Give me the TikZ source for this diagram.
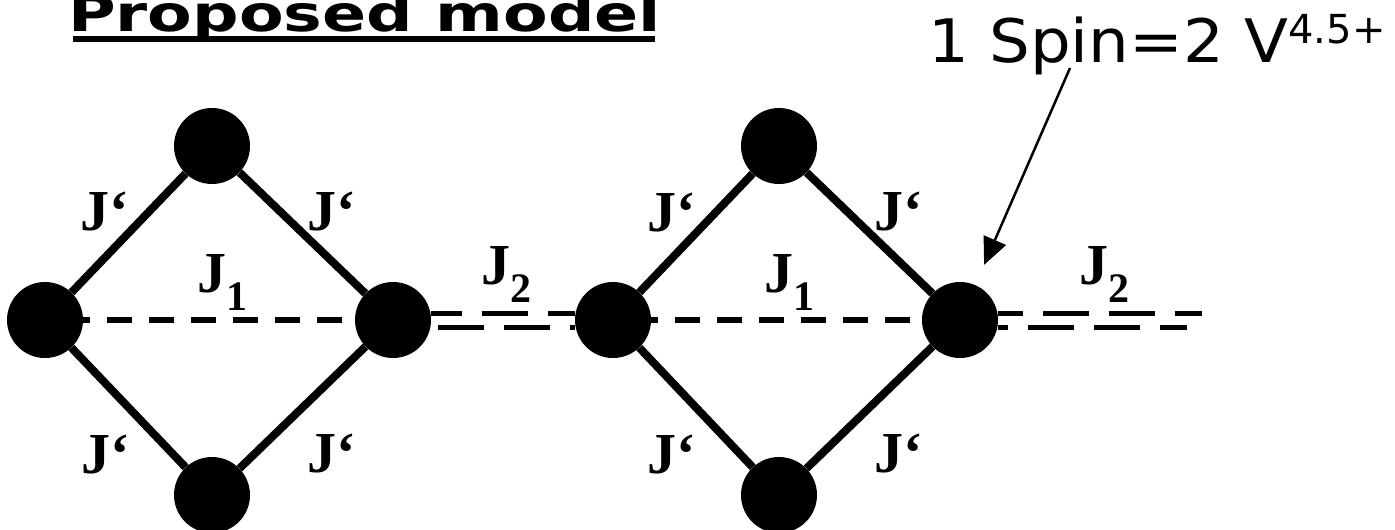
\documentclass[tikz,border=0pt]{standalone}
\usepackage{fontspec}
\usepackage{graphicx}
\setmainfont{Liberation Serif}
\newfontfamily\dejavu{DejaVu Sans}
\usetikzlibrary{arrows.meta}
\newcommand\Jsub[1]{J\raisebox{-18pt}{\fontsize{42}{42}\selectfont #1}}
\begin{document}
\begin{tikzpicture}[x=1pt,y=-1pt,
  site/.style={circle,fill=black,minimum size=76pt,inner sep=0pt},
  bond/.style={line width=8pt},
  jone/.style={line width=6.5pt,dash pattern=on 24.5pt off 17.5pt,dash phase=18pt},
  jtwo/.style={line width=5pt,dash pattern=on 46pt off 20pt},
  lab/.style={anchor=base west,inner sep=0pt,font=\fontsize{58}{58}\selectfont\bfseries}
]
\useasboundingbox (0,0) rectangle (1395,530);
% title
\node[anchor=base west,inner sep=0pt,font=\dejavu\bfseries\fontsize{50}{50}\selectfont] (title) at (68,31) {\scalebox{1.3}[1]{Proposed model}};
\draw[line width=6pt] (73,39) -- (655,39);
% sites
\node[site] (l1) at (45,320) {};
\node[site] (t1) at (212,146) {};
\node[site] (r1) at (393,320) {};
\node[site] (b1) at (212,495) {};
\node[site] (l2) at (613,320) {};
\node[site] (t2) at (779,146) {};
\node[site] (r2) at (960,320) {};
\node[site] (b2) at (779,495) {};
% J' bonds
\draw[bond] (l1) -- (t1);
\draw[bond] (t1) -- (r1);
\draw[bond] (l1) -- (b1);
\draw[bond] (b1) -- (r1);
\draw[bond] (l2) -- (t2);
\draw[bond] (t2) -- (r2);
\draw[bond] (l2) -- (b2);
\draw[bond] (b2) -- (r2);
% J1 bonds
\draw[jone] (l1) -- (r1);
\draw[jone] (l2) -- (r2);
% J2 bonds
\draw[jtwo,dash phase=15pt] ([yshift=7pt]r1.east) -- ([yshift=7pt]l2.west);
\draw[jtwo,dash phase=59pt] ([yshift=-7pt]r1.east) -- ([yshift=-7pt]l2.west);
\coordinate (e1) at (1202,313);
\coordinate (e2) at (1187,327);
\draw[jtwo,dash phase=21pt] ([yshift=7pt]r2.east) -- (e1);
\draw[jtwo,dash phase=36pt] ([yshift=-7pt]r2.east) -- (e2);
% labels
\node[lab] (a1) at (80,230) {J‘};
\node[lab] (a2) at (307,230) {J‘};
\node[lab] (a3) at (81,473) {J‘};
\node[lab] (a4) at (307,472) {J‘};
\node[lab] (a5) at (647,231) {J‘};
\node[lab] (a6) at (874,230) {J‘};
\node[lab] (a7) at (647,473) {J‘};
\node[lab] (a8) at (874,472) {J‘};
\node[lab] (j1a) at (197,292) {\Jsub{1}};
\node[lab] (j1b) at (764,292) {\Jsub{1}};
\node[lab] (j2a) at (481,284) {\Jsub{2}};
\node[lab] (j2b) at (1079,284) {\Jsub{2}};
% spin label and arrow
\node[anchor=base west,inner sep=0pt,font=\dejavu\fontsize{60}{60}\selectfont] (spin) at (928,62) {\scalebox{1.07}[1]{1 Spin=2 V}\raisebox{19pt}{\fontsize{40}{40}\selectfont 4.5+}};
\coordinate (as) at (1070,68);
\draw[line width=2.5pt,-{Triangle[length=27pt,width=24pt]},shorten >=22pt] (as) -- (r2);
\end{tikzpicture}
\end{document}
